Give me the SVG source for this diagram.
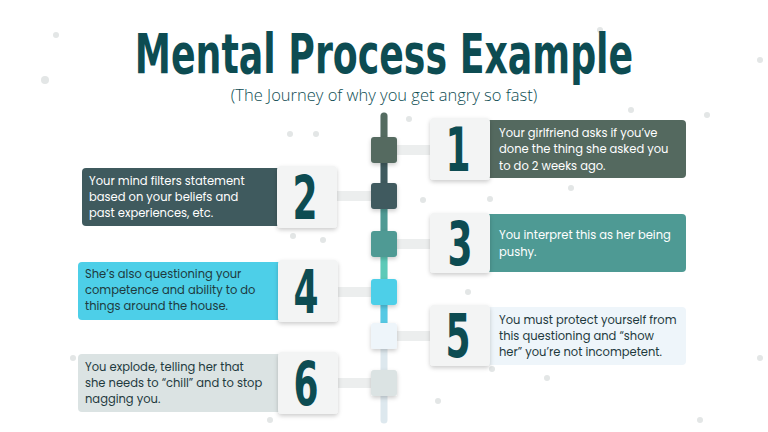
<svg xmlns="http://www.w3.org/2000/svg" width="768" height="432" viewBox="0 0 768 432">
<defs>
<filter id="sh" x="-20%" y="-20%" width="140%" height="150%"><feDropShadow dx="0" dy="2" stdDeviation="2" flood-color="#000" flood-opacity="0.2"/></filter>
<style>
.num{font-family:"DejaVu Sans",sans-serif;font-weight:bold;font-size:60px;fill:#0d4c52;text-anchor:middle}
.txt{font-family:Poppins,"Open Sans",sans-serif;font-size:11.5px}
.card{fill:#f3f4f4;filter:url(#sh)}
.dot{fill:#e3e6e6}
.stub{stroke:#eceeee;stroke-width:10;fill:none}
</style>
</defs>
<rect width="768" height="432" fill="#ffffff"/>
<g id="dots">
<circle class="dot" cx="45" cy="80" r="4"/><circle class="dot" cx="56" cy="35" r="3"/><circle class="dot" cx="290" cy="134" r="3"/><circle class="dot" cx="316" cy="134" r="3"/><circle class="dot" cx="409" cy="119" r="3"/><circle class="dot" cx="631" cy="110" r="3"/><circle class="dot" cx="707" cy="115" r="3"/><circle class="dot" cx="490" cy="199" r="3"/><circle class="dot" cx="571" cy="188" r="3"/><circle class="dot" cx="423" cy="200" r="3"/><circle class="dot" cx="293" cy="236" r="3"/><circle class="dot" cx="323" cy="240" r="3"/><circle class="dot" cx="468" cy="292" r="3"/><circle class="dot" cx="387" cy="293" r="3"/><circle class="dot" cx="73" cy="358" r="3"/><circle class="dot" cx="438" cy="401" r="3"/><circle class="dot" cx="492" cy="369" r="3"/><circle class="dot" cx="547" cy="378" r="3"/><circle class="dot" cx="760" cy="358" r="3"/><circle class="dot" cx="270" cy="420" r="3"/><circle class="dot" cx="700" cy="420" r="3"/><circle class="dot" cx="760" cy="60" r="3"/><circle class="dot" cx="248" cy="60" r="3"/><circle class="dot" cx="600" cy="30" r="3"/>
</g>
<g id="title">
<text transform="translate(384 73) scale(0.66 1)" font-family="DejaVu Sans,sans-serif" font-weight="bold" font-size="55" fill="#0d4c52" text-anchor="middle">Mental Process Example</text>
<text x="384" y="101" font-family="Open Sans,sans-serif" font-weight="300" font-size="16.5" fill="#0d4c52" text-anchor="middle">(The Journey of why you get angry so fast)</text>
</g>
<g id="connectors">
<line x1="384" y1="116" x2="384" y2="420" stroke="#dde8ee" stroke-width="7" stroke-linecap="round"/>
<line x1="384" y1="116" x2="384" y2="160" stroke="#546b60" stroke-width="7" stroke-linecap="round"/>
<line x1="384" y1="160" x2="384" y2="205" stroke="#3f5a5e" stroke-width="7"/>
<line x1="384" y1="205" x2="384" y2="255" stroke="#4f9a94" stroke-width="7"/>
<line x1="384" y1="255" x2="384" y2="300" stroke="#5dcab8" stroke-width="7"/>
<line x1="384" y1="300" x2="384" y2="340" stroke="#56c9e4" stroke-width="7"/>
<path class="stub" d="M397 150 H432"/><path class="stub" d="M337 196 H371"/><path class="stub" d="M397 244 H432"/><path class="stub" d="M337 292 H371"/><path class="stub" d="M397 336 H432"/><path class="stub" d="M337 383 H371"/>
</g>
<g id="squares">
<rect x="371" y="137" width="26" height="26" rx="3" fill="#546b60" filter="url(#sh)"/>
<rect x="371" y="183" width="26" height="26" rx="3" fill="#3f5a5e" filter="url(#sh)"/>
<rect x="371" y="231" width="26" height="26" rx="3" fill="#4f9a94" filter="url(#sh)"/>
<rect x="371" y="279" width="26" height="26" rx="3" fill="#4dcfe8" filter="url(#sh)"/>
<rect x="371" y="323" width="26" height="26" rx="3" fill="#eef5fa" filter="url(#sh)"/>
<rect x="371" y="370" width="26" height="26" rx="3" fill="#dbe3e3" filter="url(#sh)"/>
</g>
<g id="step1">
<rect x="480" y="120" width="206" height="58" rx="4" fill="#54695f"/>
<rect x="430" y="118" width="60" height="62" rx="4" class="card"/>
<text class="num" transform="translate(458 171) scale(0.6 1)">1</text>
<text class="txt" fill="#ffffff"><tspan x="499" y="137">Your girlfriend asks if you’ve</tspan><tspan x="499" y="153">done the thing she asked you</tspan><tspan x="499" y="170">to do 2 weeks ago.</tspan></text>
</g>
<g id="step2">
<rect x="82" y="168" width="205" height="58" rx="4" fill="#3f5a5e"/>
<rect x="277" y="166" width="60" height="62" rx="4" class="card"/>
<text class="num" transform="translate(305 219) scale(0.6 1)">2</text>
<text class="txt" fill="#ffffff"><tspan x="89" y="185">Your mind filters statement</tspan><tspan x="89" y="201">based on your beliefs and</tspan><tspan x="89" y="217">past experiences, etc.</tspan></text>
</g>
<g id="step3">
<rect x="480" y="214" width="206" height="58" rx="4" fill="#4e9a94"/>
<rect x="430" y="213" width="60" height="60" rx="4" class="card"/>
<text class="num" transform="translate(460 265) scale(0.6 1)">3</text>
<text class="txt" fill="#ffffff"><tspan x="499" y="239">You interpret this as her being</tspan><tspan x="499" y="256">pushy.</tspan></text>
</g>
<g id="step4">
<rect x="78" y="262" width="210" height="58" rx="4" fill="#4dcfe8"/>
<rect x="278" y="260" width="60" height="62" rx="4" class="card"/>
<text class="num" transform="translate(306 313) scale(0.6 1)">4</text>
<text class="txt" fill="#1e3a3e"><tspan x="85" y="278">She’s also questioning your</tspan><tspan x="85" y="294">competence and ability to do</tspan><tspan x="85" y="310">things around the house.</tspan></text>
</g>
<g id="step5">
<rect x="480" y="307" width="206" height="58" rx="4" fill="#eef5fa"/>
<rect x="430" y="305" width="60" height="61" rx="4" class="card"/>
<text class="num" transform="translate(458 357) scale(0.6 1)">5</text>
<text class="txt" fill="#1e3a3e"><tspan x="499" y="324">You must protect yourself from</tspan><tspan x="499" y="340">this questioning and “show</tspan><tspan x="499" y="356">her” you’re not incompetent.</tspan></text>
</g>
<g id="step6">
<rect x="78" y="354" width="210" height="58" rx="4" fill="#dbe3e3"/>
<rect x="278" y="352" width="60" height="62" rx="4" class="card"/>
<text class="num" transform="translate(306 405) scale(0.6 1)">6</text>
<text class="txt" fill="#1e3a3e"><tspan x="85" y="371">You explode, telling her that</tspan><tspan x="85" y="387">she needs to “chill” and to stop</tspan><tspan x="85" y="403">nagging you.</tspan></text>
</g>
</svg>
